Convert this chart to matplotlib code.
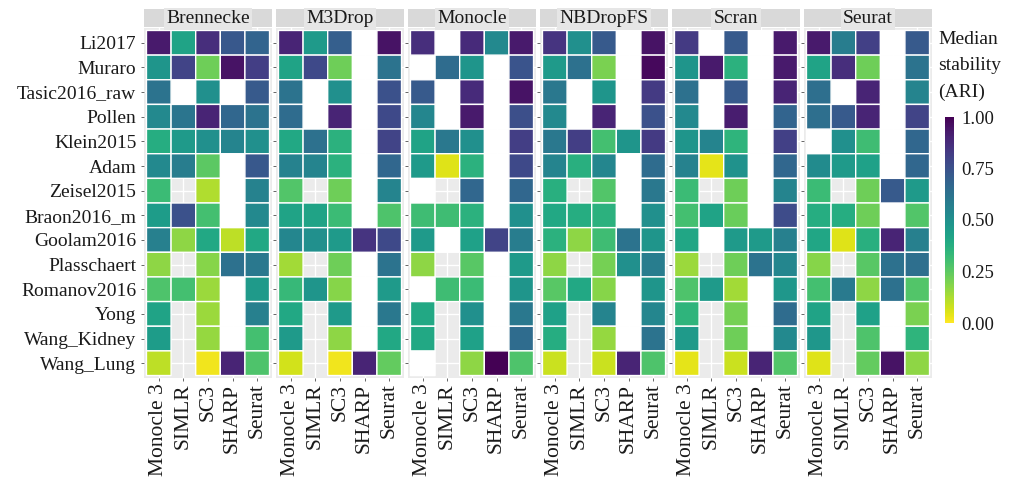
import numpy as np
import matplotlib
matplotlib.use("Agg")
import matplotlib.pyplot as plt
from matplotlib.colors import ListedColormap

plt.rcParams["font.family"] = ["Liberation Serif", "DejaVu Serif"]

datasets = ["Li2017", "Muraro", "Tasic2016_raw", "Pollen", "Klein2015", "Adam",
            "Zeisel2015", "Braon2016_m", "Goolam2016", "Plasschaert",
            "Romanov2016", "Yong", "Wang_Kidney", "Wang_Lung"]
methods = ["Monocle 3", "SIMLR", "SC3", "SHARP", "Seurat"]
feature_sets = ["Brennecke", "M3Drop", "Monocle", "NBDropFS", "Scran", "Seurat"]

# SIMLR was never run on these datasets, so no tile is drawn for them
simlr_not_run = ["Zeisel2015", "Plasschaert", "Yong", "Wang_Kidney", "Wang_Lung"]

NA = np.nan  # run finished but ARI is NA -> white tile

# median ARI, rows = datasets, cols = methods
brennecke = [
    [0.93, 0.42, 0.87, 0.73, 0.68],
    [0.48, 0.80, 0.22, 0.95, 0.82],
    [0.62, NA, 0.50, NA, 0.72],
    [0.53, 0.61, 0.90, 0.67, 0.62],
    [0.38, 0.46, 0.50, 0.55, 0.50],
    [0.53, 0.58, 0.25, NA, 0.73],
    [0.32, NA, 0.12, NA, 0.56],
    [0.45, 0.75, 0.30, NA, 0.53],
    [0.57, 0.17, 0.40, 0.10, 0.40],
    [0.17, NA, 0.18, 0.63, 0.60],
    [0.28, 0.30, 0.15, NA, 0.46],
    [0.42, NA, 0.15, NA, 0.57],
    [0.45, NA, 0.16, NA, 0.30],
    [0.10, NA, 0.02, 0.90, 0.28],
]
m3drop = [
    [0.90, 0.46, 0.70, NA, 0.95],
    [0.42, 0.78, 0.22, NA, 0.62],
    [0.62, NA, 0.50, NA, 0.75],
    [0.65, NA, 0.90, NA, 0.78],
    [0.40, 0.63, 0.36, NA, 0.80],
    [0.56, 0.55, 0.36, NA, 0.67],
    [0.27, NA, 0.22, NA, 0.55],
    [0.42, 0.42, 0.32, NA, 0.28],
    [0.54, 0.50, 0.46, 0.85, 0.78],
    [0.14, NA, 0.22, NA, 0.62],
    [0.33, 0.48, 0.18, NA, 0.46],
    [0.40, NA, 0.46, NA, 0.60],
    [0.46, NA, 0.17, NA, 0.40],
    [0.07, NA, 0.02, 0.90, 0.24],
]
monocle = [
    [0.87, NA, 0.88, 0.53, 0.93],
    [NA, 0.65, 0.48, NA, 0.74],
    [0.72, NA, 0.88, NA, 0.95],
    [0.54, NA, 0.93, NA, 0.76],
    [0.42, 0.60, 0.50, NA, 0.82],
    [0.46, 0.05, 0.36, NA, 0.78],
    [NA, NA, 0.67, NA, 0.67],
    [0.31, 0.31, 0.36, NA, 0.50],
    [0.46, NA, 0.43, 0.80, 0.58],
    [0.17, NA, 0.26, NA, 0.46],
    [NA, 0.31, 0.32, NA, 0.48],
    [0.40, NA, 0.50, NA, 0.60],
    [0.40, NA, 0.43, NA, 0.65],
    [NA, NA, 0.17, 1.00, 0.28],
]
nbdropfs = [
    [0.85, 0.50, 0.72, NA, 0.95],
    [0.46, 0.63, 0.20, NA, 0.98],
    [0.60, NA, 0.48, NA, 0.83],
    [0.53, NA, 0.90, NA, 0.75],
    [0.60, 0.82, 0.30, 0.48, 0.83],
    [0.55, 0.37, 0.54, NA, 0.65],
    [0.37, NA, 0.27, NA, 0.60],
    [0.40, 0.38, 0.36, NA, 0.50],
    [0.36, 0.17, 0.31, 0.62, 0.48],
    [0.17, NA, 0.21, 0.50, 0.58],
    [0.26, 0.40, 0.18, NA, 0.48],
    [0.43, NA, 0.55, NA, 0.54],
    [0.38, NA, 0.16, NA, 0.62],
    [0.08, NA, 0.08, 0.90, 0.28],
]
scran = [
    [0.83, NA, 0.72, NA, 0.93],
    [0.48, 0.93, 0.36, NA, 0.93],
    [0.63, NA, 0.72, NA, 0.90],
    [0.53, NA, 0.92, NA, 0.68],
    [0.48, 0.55, 0.35, NA, 0.81],
    [0.56, 0.04, 0.49, NA, 0.67],
    [0.32, NA, 0.22, NA, 0.55],
    [0.30, 0.42, 0.23, NA, 0.77],
    [0.41, NA, 0.46, 0.46, 0.57],
    [0.15, NA, 0.22, 0.62, 0.54],
    [0.28, 0.46, 0.14, NA, 0.47],
    [0.35, NA, 0.21, NA, 0.65],
    [0.46, NA, 0.22, NA, 0.53],
    [0.04, NA, 0.08, 0.90, 0.27],
]
seurat = [
    [0.93, 0.58, 0.81, NA, 0.72],
    [0.42, 0.87, 0.22, NA, 0.62],
    [0.64, NA, 0.90, NA, 0.55],
    [0.64, 0.72, 0.90, NA, 0.80],
    [NA, 0.50, 0.31, NA, 0.67],
    [0.52, 0.46, 0.43, NA, 0.67],
    [0.32, NA, 0.22, 0.72, 0.46],
    [0.38, 0.38, 0.22, NA, 0.27],
    [0.41, 0.05, 0.37, 0.90, 0.57],
    [0.18, NA, 0.26, 0.63, 0.64],
    [0.30, 0.59, 0.17, 0.63, 0.27],
    [0.42, NA, 0.43, NA, 0.20],
    [0.47, NA, 0.28, NA, 0.35],
    [0.05, NA, 0.24, 0.95, 0.17],
]
panels = [brennecke, m3drop, monocle, nbdropfs, scran, seurat]

W, H = 1012, 478
fig = plt.figure(figsize=(W / 100, H / 100), dpi=100)


def px_axes(left, top, width, height):
    return fig.add_axes([left / W, 1 - (top + height) / H, width / W, height / H])


cmap = plt.get_cmap("viridis_r")
white_cmap = ListedColormap(["white"])
n_rows, n_cols = len(datasets), len(methods)
absent = np.zeros((n_rows, n_cols), dtype=bool)
for name in simlr_not_run:
    absent[datasets.index(name), methods.index("SIMLR")] = True

xe = np.arange(n_cols + 1) - 0.5
ye = np.arange(n_rows + 1) - 0.5

for i, (name, vals) in enumerate(zip(feature_sets, panels)):
    left = 144 + i * 132
    ax = px_axes(left, 28, 128, 350)
    ax.set_facecolor("#EBEBEB")
    z = np.array(vals, dtype=float)

    na_tiles = np.ma.masked_where(~(np.isnan(z) & ~absent), np.ones_like(z))
    ax.pcolor(xe, ye, na_tiles, cmap=white_cmap, edgecolors="white", linewidth=1.0)
    filled = np.ma.masked_where(np.isnan(z) | absent, z)
    ax.pcolor(xe, ye, filled, cmap=cmap, vmin=0, vmax=1,
              edgecolors="white", linewidth=1.0)

    ax.set_xlim(-0.6, n_cols - 0.4)
    ax.set_ylim(n_rows - 0.4, -0.6)
    ax.set_xticks(range(n_cols))
    ax.set_yticks(range(n_rows))
    ax.set_axisbelow(True)
    ax.grid(True, color="white", linewidth=1.0)
    for s in ax.spines.values():
        s.set_visible(False)
    ax.set_xticklabels(methods, rotation=90, fontsize=15.5, color="#1a1a1a")
    if i == 0:
        ax.set_yticklabels(datasets, fontsize=14, color="#1a1a1a")
    else:
        ax.set_yticklabels([])
    ax.tick_params(axis="both", length=2.5, width=0.6, color="#4d4d4d", pad=1.5)
    ax.tick_params(axis="y", pad=3)

    # facet strip
    sx = px_axes(left, 9, 128, 18)
    sx.set_facecolor("#D9D9D9")
    sx.set_xticks([])
    sx.set_yticks([])
    for s in sx.spines.values():
        s.set_visible(False)
    sx.text(0.5, 0.45, name, ha="center", va="center", fontsize=14,
            color="#1a1a1a", transform=sx.transAxes,
            bbox=dict(boxstyle="square,pad=0.12", fc="#E6E6E6", ec="none"))

# colour bar
cax = px_axes(945, 117, 9, 206)
sm = plt.cm.ScalarMappable(cmap=cmap, norm=plt.Normalize(0, 1))
cb = fig.colorbar(sm, cax=cax, ticks=[0, 0.25, 0.5, 0.75, 1.0])
cb.outline.set_visible(False)
cb.ax.set_yticklabels(["%.2f" % t for t in [0, 0.25, 0.5, 0.75, 1.0]],
                      fontsize=13.5, color="#1a1a1a")
cb.ax.tick_params(length=2, width=0.6, color="white", pad=3)
fig.text(938 / W, 1 - 31 / H, "Median\nstability\n(ARI)", ha="left", va="top",
         fontsize=14, linespacing=1.7, color="#1a1a1a")

fig.savefig("out.png", dpi=100)
